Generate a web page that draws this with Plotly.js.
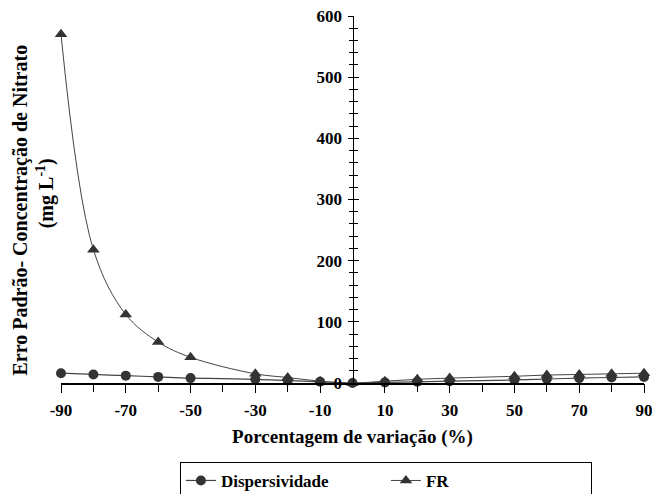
<!DOCTYPE html>
<html>
<head>
<meta charset="utf-8">
<script src="https://cdn.plot.ly/plotly-3.0.1.min.js"></script>
<style>html,body{margin:0;padding:0;background:#fff;}#chart{width:652px;height:494px;}</style>
</head>
<body>
<div id="chart"></div>
<script>
// Data
const variacao = [-90, -80, -70, -60, -50, -30, -20, -10, 0, 10, 20, 30, 50, 60, 70, 80, 90];
const dispersividade = [16, 14, 12, 10, 8, 6, 4, 2, 0, 1, 2, 3, 5, 6.5, 8, 9, 10];
const fr = [570, 218, 112, 67, 42, 15, 9, 3, 0, 3, 6, 8, 11, 13, 14, 15, 16];
const xLabelVals = [-90, -70, -50, -30, -10, 10, 30, 50, 70, 90];
const xLabelText = ['-90', '-70', '-50', '-30', '-10', '10', '30', '50', '70', '90'];
const xMarkVals = [-90, -80, -70, -60, -50, -40, -30, -20, -10, 10, 20, 30, 40, 50, 60, 70, 80, 90];
const yTickVals = [0, 100, 200, 300, 400, 500, 600];
const yTitleLine1 = 'Erro Padrão- Concentração de Nitrato';
const yTitleLine2 = '(mg L<sup>-1</sup>)';

function serif(size) {
  return {family: 'Liberation Serif, Times New Roman, serif', size: size, color: '#000', weight: 'bold'};
}

const traces = [
  {
    x: variacao, y: dispersividade, name: 'Dispersividade', type: 'scatter', mode: 'lines+markers',
    line: {color: '#444', width: 1.2, shape: 'spline'},
    marker: {symbol: 'circle', size: 10, color: '#333'},
    cliponaxis: false
  },
  {
    x: variacao, y: fr, name: 'FR', type: 'scatter', mode: 'lines+markers',
    line: {color: '#444', width: 1, shape: 'spline', smoothing: 1},
    marker: {symbol: 'triangle-up', size: 11, color: '#333'},
    cliponaxis: false
  },
  // invisible trace to drive the overlay axes (extra tick marks)
  {x: [0], y: [0], xaxis: 'x2', yaxis: 'y2', mode: 'markers', marker: {opacity: 0}, showlegend: false, hoverinfo: 'skip'}
];

const layout = {
  width: 652, height: 494,
  margin: {l: 61, r: 8, t: 16, b: 111, autoexpand: false},
  paper_bgcolor: '#fff', plot_bgcolor: '#fff',
  font: serif(17),
  showlegend: true,
  xaxis: {
    range: [-90, 90], showgrid: false, zeroline: false,
    showline: true, linecolor: '#000', linewidth: 1.5,
    ticks: 'outside', ticklen: 8, tickwidth: 1, tickcolor: '#000',
    tickmode: 'array', tickvals: xLabelVals, ticktext: xLabelText,
    ticklabelstandoff: 3, ticklabeloverflow: 'allow',
    tickfont: serif(17),
    title: {text: 'Porcentagem de variação (%)', font: serif(19), standoff: 11}
  },
  xaxis2: {
    range: [-90, 90], overlaying: 'x', anchor: 'y2', showgrid: false, zeroline: false,
    showline: false, showticklabels: false,
    ticks: 'outside', ticklen: 8, tickwidth: 1, tickcolor: '#000',
    tickmode: 'array', tickvals: xMarkVals
  },
  yaxis: {
    range: [0, 600], anchor: 'free', position: 0.5,
    showgrid: false, zeroline: false,
    showline: true, linecolor: '#000', linewidth: 1.2,
    ticks: 'outside', ticklen: 5, tickwidth: 1, tickcolor: '#000',
    tickmode: 'array', tickvals: yTickVals,
    minor: {dtick: 20, ticks: 'outside', ticklen: 4, tickwidth: 1, tickcolor: '#000', showgrid: false},
    tickfont: serif(17), ticklabelstandoff: 2
  },
  yaxis2: {
    range: [0, 600], overlaying: 'y', anchor: 'free', position: 0.5,
    showgrid: false, zeroline: false, showline: false, showticklabels: false,
    ticks: 'inside', ticklen: 5, tickwidth: 1, tickcolor: '#000',
    tickmode: 'array', tickvals: yTickVals,
    minor: {dtick: 20, ticks: 'inside', ticklen: 4, tickwidth: 1, tickcolor: '#000', showgrid: false}
  },
  legend: {
    orientation: 'h', x: 0.204, xanchor: 'left', y: -0.215, yanchor: 'top',
    bordercolor: '#000', borderwidth: 1, bgcolor: '#fff',
    font: serif(17), itemwidth: 30, entrywidth: 160, entrywidthmode: 'pixels'
  },
  annotations: [
    {
      text: yTitleLine1,
      xref: 'paper', yref: 'paper', x: -0.0703, y: 0.47,
      xanchor: 'center', yanchor: 'middle', textangle: -90,
      showarrow: false, font: serif(20)
    },
    {
      text: yTitleLine2,
      xref: 'paper', yref: 'paper', x: -0.0274, y: 0.517,
      xanchor: 'center', yanchor: 'middle', textangle: -90,
      showarrow: false, font: serif(20)
    }
  ]
};

Plotly.newPlot('chart', traces, layout, {staticPlot: true});
</script>
</body>
</html>
